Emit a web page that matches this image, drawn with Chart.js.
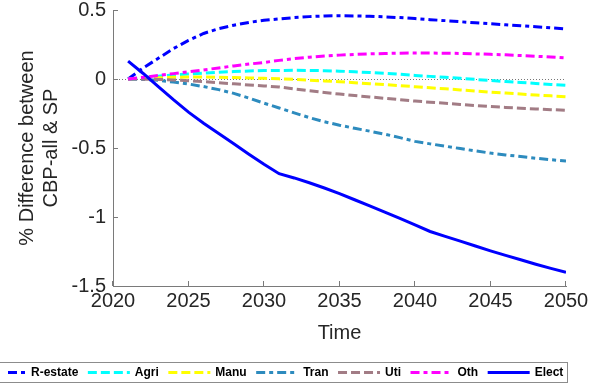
<!DOCTYPE html>
<html>
<head>
<meta charset="utf-8">
<script src="https://cdn.jsdelivr.net/npm/chart.js@4.4.1/dist/chart.umd.min.js"></script>
<style>
  html, body { margin: 0; padding: 0; background: #fff; }
  canvas { display: block; }
</style>
</head>
<body>
<canvas id="chart" width="600" height="387"></canvas>
<script>
// Simulation years
const years = [2021, 2022, 2023, 2024, 2025, 2026, 2027, 2028, 2029, 2030,
               2031, 2032, 2033, 2034, 2035, 2036, 2037, 2038, 2039, 2040,
               2041, 2042, 2043, 2044, 2045, 2046, 2047, 2048, 2049, 2050];

// % difference between CBP-all and SP, by sector
const rEstate = [0.00, 0.08, 0.15, 0.22, 0.28, 0.33, 0.365, 0.39, 0.41, 0.425,
                 0.435, 0.445, 0.452, 0.457, 0.458, 0.457, 0.455, 0.45, 0.445, 0.438,
                 0.43, 0.423, 0.415, 0.407, 0.40, 0.393, 0.386, 0.379, 0.371, 0.363];
const agri = [0.00, 0.01, 0.02, 0.029, 0.036, 0.043, 0.049, 0.054, 0.058, 0.061,
              0.062, 0.063, 0.062, 0.06, 0.057, 0.052, 0.047, 0.041, 0.034, 0.026,
              0.019, 0.012, 0.005, -0.003, -0.011, -0.018, -0.025, -0.032, -0.039, -0.046];
const manu = [0.00, 0.005, 0.009, 0.012, 0.014, 0.014, 0.013, 0.011, 0.008, 0.005,
              0.001, -0.003, -0.008, -0.014, -0.02, -0.027, -0.034, -0.041, -0.048, -0.056,
              -0.064, -0.071, -0.079, -0.087, -0.095, -0.102, -0.109, -0.116, -0.122, -0.128];
const tran = [0.00, -0.003, -0.01, -0.022, -0.036, -0.055, -0.077, -0.104, -0.138, -0.175,
              -0.21, -0.245, -0.28, -0.31, -0.335, -0.357, -0.378, -0.40, -0.425, -0.452,
              -0.47, -0.487, -0.504, -0.521, -0.537, -0.55, -0.562, -0.574, -0.585, -0.594];
const uti = [0.00, -0.001, -0.003, -0.007, -0.012, -0.019, -0.027, -0.035, -0.043, -0.05,
             -0.058, -0.072, -0.085, -0.098, -0.109, -0.12, -0.13, -0.14, -0.15, -0.16,
             -0.168, -0.176, -0.184, -0.192, -0.2, -0.206, -0.212, -0.217, -0.222, -0.227];
const oth = [0.00, 0.012, 0.025, 0.039, 0.052, 0.066, 0.08, 0.095, 0.108, 0.12,
             0.135, 0.148, 0.158, 0.167, 0.173, 0.178, 0.182, 0.185, 0.187, 0.188,
             0.188, 0.187, 0.185, 0.182, 0.179, 0.175, 0.17, 0.165, 0.159, 0.152];
const elect = [0.13, 0.04, -0.055, -0.15, -0.24, -0.32, -0.395, -0.47, -0.545, -0.618,
               -0.686, -0.717, -0.752, -0.79, -0.83, -0.875, -0.92, -0.965, -1.01, -1.057,
               -1.105, -1.14, -1.175, -1.21, -1.245, -1.278, -1.31, -1.342, -1.372, -1.40];

const seriesNames = ['R-estate', 'Agri', 'Manu', 'Tran', 'Uti', 'Oth', 'Elect'];
const seriesValues = [rEstate, agri, manu, tran, uti, oth, elect];

// Axis ticks
const xTickValues = [2020, 2025, 2030, 2035, 2040, 2045, 2050];
const xTickLabels = ['2020', '2025', '2030', '2035', '2040', '2045', '2050'];
const yTickValues = [-1.5, -1, -0.5, 0, 0.5];
const yTickLabels = ['-1.5', '-1', '-0.5', '0', '0.5'];

// Line styles per sector
const DASH = [9, 4];
const DASH_DOT = [9, 4, 4, 4];
const styles = [
  { color: '#0000FF', dash: DASH_DOT },
  { color: '#00FFFF', dash: DASH },
  { color: '#FFFF00', dash: DASH },
  { color: '#2D8BBE', dash: DASH_DOT },
  { color: '#A27C85', dash: DASH },
  { color: '#FF00FF', dash: DASH_DOT },
  { color: '#0000FF', dash: [] }
];

const FONT = '"Liberation Sans", Arial, sans-serif';
const TEXT_COLOR = '#262626';
const AXIS_COLOR = '#7a7a7a';

const datasets = seriesNames.map((name, i) => ({
  label: name,
  data: years.map((yr, k) => ({ x: yr, y: seriesValues[i][k] })),
  borderColor: styles[i].color,
  backgroundColor: styles[i].color,
  borderDash: styles[i].dash,
  borderWidth: 3,
  pointRadius: 0,
  tension: 0,
  fill: false,
  order: seriesNames.length - i
}));

// Zero reference line, inward tick marks and the boxed legend underneath
const decorations = {
  id: 'decorations',
  beforeDatasetsDraw(chart) {
    const { ctx, chartArea: a, scales: { x, y } } = chart;
    ctx.save();
    const y0 = Math.round(y.getPixelForValue(0)) + 0.5;
    ctx.strokeStyle = '#777';
    ctx.lineWidth = 1;
    ctx.setLineDash([1, 2]);
    ctx.beginPath();
    ctx.moveTo(a.left, y0);
    ctx.lineTo(a.right, y0);
    ctx.stroke();

    ctx.setLineDash([]);
    ctx.strokeStyle = AXIS_COLOR;
    ctx.beginPath();
    x.ticks.forEach(t => {
      const px = Math.round(x.getPixelForValue(t.value)) - 0.5;
      ctx.moveTo(px, a.bottom);
      ctx.lineTo(px, a.bottom - 5);
    });
    y.ticks.forEach(t => {
      const py = Math.round(y.getPixelForValue(t.value)) + 0.5;
      ctx.moveTo(a.left, py);
      ctx.lineTo(a.left + 5, py);
    });
    ctx.stroke();
    ctx.restore();
  },
  afterDraw(chart) {
    const { ctx } = chart;
    const top = 362.5, bottom = 382.5, right = 567.5;
    const midY = (top + bottom) / 2;
    const sampleLen = 42, textGap = 5, itemGap = 9.5;
    ctx.save();
    ctx.fillStyle = '#fff';
    ctx.fillRect(-5, top, right + 5, bottom - top);
    ctx.strokeStyle = '#8c8c8c';
    ctx.lineWidth = 1;
    ctx.setLineDash([]);
    ctx.strokeRect(-5, top, right + 5, bottom - top);

    ctx.font = 'bold 12px ' + FONT;
    ctx.textBaseline = 'middle';
    ctx.textAlign = 'left';
    let textX = 31;
    chart.data.datasets.forEach((ds, i) => {
      const start = Math.max(textX - textGap - sampleLen, 8);
      ctx.strokeStyle = ds.borderColor;
      ctx.lineWidth = 3;
      ctx.setLineDash(ds.borderDash);
      ctx.beginPath();
      ctx.moveTo(start, midY);
      ctx.lineTo(textX - textGap, midY);
      ctx.stroke();
      ctx.setLineDash([]);
      ctx.fillStyle = '#000';
      ctx.fillText(ds.label, textX, midY + 0.5);
      textX += ctx.measureText(ds.label).width + itemGap + sampleLen + textGap;
    });
    ctx.restore();
  }
};

new Chart(document.getElementById('chart'), {
  type: 'line',
  data: { datasets },
  plugins: [decorations],
  options: {
    responsive: false,
    animation: false,
    devicePixelRatio: 1,
    layout: { padding: { top: 10, right: 34, left: 0, bottom: 0 } },
    plugins: {
      legend: { display: false },
      tooltip: { enabled: false }
    },
    scales: {
      x: {
        type: 'linear',
        min: 2020,
        max: 2050,
        afterFit: s => { s.height = 101; s.paddingLeft = 0; s.paddingRight = 0; },
        afterBuildTicks: s => { s.ticks = xTickValues.map(v => ({ value: v })); },
        grid: { display: false, drawTicks: false },
        border: { display: true, color: AXIS_COLOR, width: 1 },
        ticks: {
          padding: 3,
          color: TEXT_COLOR,
          font: { family: FONT, size: 20 },
          maxRotation: 0,
          callback: (v, i) => xTickLabels[i]
        },
        title: {
          display: true,
          text: 'Time',
          color: TEXT_COLOR,
          font: { family: FONT, size: 20 },
          padding: { top: 0, bottom: 42 }
        }
      },
      y: {
        type: 'linear',
        min: -1.5,
        max: 0.5,
        afterFit: s => { s.width = 113; s.paddingTop = 0; s.paddingBottom = 0; },
        afterBuildTicks: s => { s.ticks = yTickValues.map(v => ({ value: v })); },
        grid: { display: false, drawTicks: false },
        border: { display: true, color: AXIS_COLOR, width: 1 },
        ticks: {
          padding: 7,
          color: TEXT_COLOR,
          font: { family: FONT, size: 20 },
          callback: (v, i) => yTickLabels[i]
        },
        title: {
          display: true,
          text: ['% Difference between', 'CBP-all & SP'],
          color: TEXT_COLOR,
          font: { family: FONT, size: 20 },
          padding: { top: 15, bottom: 0 }
        }
      }
    }
  }
});
</script>
</body>
</html>
